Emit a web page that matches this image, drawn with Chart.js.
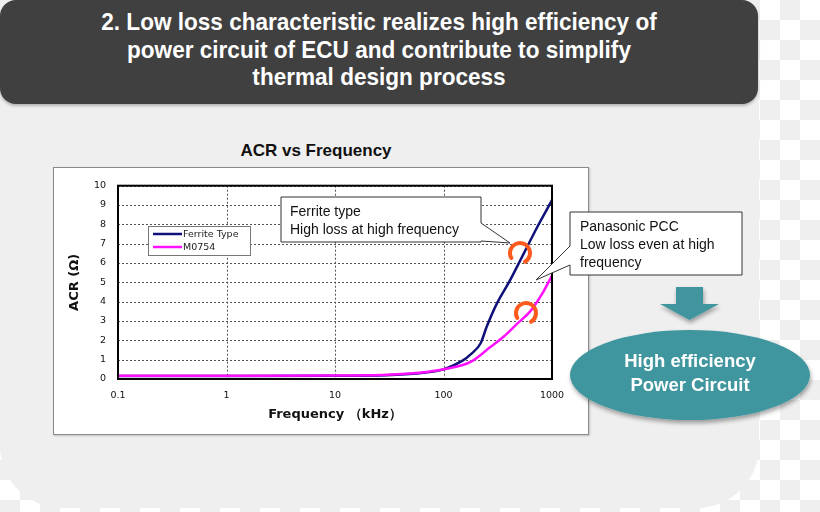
<!DOCTYPE html>
<html>
<head>
<meta charset="utf-8">
<script src="https://cdn.jsdelivr.net/npm/chart.js@4"></script>
<style>
  html, body { margin: 0; padding: 0; }
  body {
    width: 820px; height: 512px; position: relative; overflow: hidden;
    background-color: #ffffff;
    background-image:
      linear-gradient(45deg, #efefef 25%, transparent 25%, transparent 75%, #efefef 75%),
      linear-gradient(45deg, #efefef 25%, transparent 25%, transparent 75%, #efefef 75%);
    background-size: 40px 40px;
    background-position: 0 0, 20px 20px;
    font-family: "Liberation Sans", Arial, sans-serif;
  }
  #panel {
    position: absolute; left: 0; top: 0; width: 759px; height: 508px;
    background: #efefef; border-radius: 0 0 62px 62px;
  }
  #header {
    position: absolute; left: 0; top: 0; width: 758px; height: 104px;
    background: #404040; border-radius: 16px;
    box-shadow: 0 2px 3px rgba(0,0,0,0.25);
  }
  #header div {
    position: absolute; left: 0; top: 8px; width: 758px;
    color: #fff; text-align: center;
    font-family: "Liberation Sans Narrow", "Arial Narrow", "Liberation Sans", sans-serif;
    font-weight: bold; font-size: 24px; line-height: 27.5px;
    transform: scaleX(0.94); transform-origin: 379px 0;
  }
  #chartTitle {
    position: absolute; left: 53px; width: 526px; top: 141px;
    text-align: center; font-weight: bold; font-size: 17px; color: #111;
  }
  #box {
    position: absolute; left: 53px; top: 167px; width: 536px; height: 268px;
    background: #fff; box-sizing: border-box; border: 1px solid #8a8a8a;
    box-shadow: 1px 1px 2px rgba(0,0,0,0.2);
  }
  #box canvas { position: absolute; left: 0; top: 0; }
  #overlay { position: absolute; left: 0; top: 0; }
</style>
</head>
<body>
<div id="panel"></div>
<div id="header"><div>2. Low loss characteristic realizes high efficiency of<br>power circuit of ECU and contribute to simplify<br>thermal design process</div></div>
<div id="chartTitle">ACR vs Frequency</div>
<div id="box"><canvas id="acr" width="534" height="266"></canvas></div>

<svg id="overlay" width="820" height="512" xmlns="http://www.w3.org/2000/svg">
  <defs>
    <filter id="sh" x="-20%" y="-20%" width="140%" height="150%">
      <feDropShadow dx="1" dy="3" stdDeviation="2" flood-color="#000" flood-opacity="0.35"/>
    </filter>
  </defs>
  <!-- callout: ferrite -->
  <polygon points="281,197 481,197 481,223 510,243 481,241 481,242 281,242" fill="#fff" stroke="#333" stroke-width="1"/>
  <text x="290" y="216" font-size="14" fill="#111">Ferrite type</text>
  <text x="290" y="234" font-size="14" fill="#111">High loss at high frequency</text>
  <!-- callout: panasonic -->
  <polygon points="570,212 742,212 742,275 570,275 570,265 536,280 570,246" fill="#fff" stroke="#333" stroke-width="1"/>
  <text x="580" y="231" font-size="14" fill="#111">Panasonic PCC</text>
  <text x="580" y="249" font-size="14" fill="#111">Low loss even at high</text>
  <text x="580" y="267" font-size="14" fill="#111">frequency</text>
  <!-- orange marks -->
  <path d="M 511.3 258 A 10 10 0 1 1 525 261.7" fill="none" stroke="#ff5a1e" stroke-width="4" stroke-linecap="round"/>
  <path d="M 517.3 318 A 10 10 0 1 1 531 321.7" fill="none" stroke="#ff5a1e" stroke-width="4" stroke-linecap="round"/>
  <!-- arrow and ellipse -->
  <polygon points="676,287 703,287 703,304 719,304 689.5,320 660,304 676,304" fill="#3f959e" filter="url(#sh)"/>
  <ellipse cx="690" cy="375" rx="120" ry="45" fill="#40969e" filter="url(#sh)"/>
  <text x="690" y="367" text-anchor="middle" font-size="18.5" font-weight="bold" fill="#fff">High efficiency</text>
  <text x="690" y="391" text-anchor="middle" font-size="18.5" font-weight="bold" fill="#fff">Power Circuit</text>
</svg>

<script>
// values
const freqTicks = [0.1, 1, 10, 100, 1000];
const acrTicks = [0, 1, 2, 3, 4, 5, 6, 7, 8, 9, 10];

const ferriteFreq = [0.1, 1, 10, 30, 60, 100, 150, 180, 220, 250, 310, 410, 550, 730, 1000];
const ferriteAcr  = [0.16, 0.16, 0.17, 0.2, 0.3, 0.5, 0.95, 1.3, 1.85, 2.7, 3.9, 5.1, 6.5, 7.85, 9.25];

const m0754Freq = [0.1, 1, 10, 30, 60, 100, 180, 270, 360, 475, 630, 810, 1000];
const m0754Acr  = [0.17, 0.17, 0.18, 0.22, 0.32, 0.5, 0.9, 1.65, 2.2, 2.85, 3.5, 4.4, 5.35];

const seriesNames = ['Ferrite Type', 'M0754'];
const seriesColors = ['#10107a', '#ff10ff'];

const toPoints = (xs, ys) => xs.map((x, i) => ({ x: x, y: ys[i] }));

// dotted grid, drawn under the lines
const dottedGrid = {
    id: 'dottedGrid',
    beforeDatasetsDraw(chart) {
        const ctx = chart.ctx;
        const area = chart.chartArea;
        const xs = chart.scales.x, ys = chart.scales.y;
        ctx.save();
        ctx.strokeStyle = '#555';
        ctx.lineWidth = 1;
        ctx.setLineDash([2, 2]);
        ctx.beginPath();
        freqTicks.forEach(v => {
            const px = Math.round(xs.getPixelForValue(v)) + 0.5;
            ctx.moveTo(px, area.top);
            ctx.lineTo(px, area.bottom);
        });
        acrTicks.forEach(v => {
            const py = Math.round(ys.getPixelForValue(v)) + 0.5;
            ctx.moveTo(area.left, py);
            ctx.lineTo(area.right, py);
        });
        ctx.stroke();
        ctx.restore();
    }
};

// plot frame and the legend box inside the plot, like the original
const insideLegend = {
    id: 'insideLegend',
    afterDatasetsDraw(chart) {
        const ctx = chart.ctx;
        const area = chart.chartArea;
        ctx.save();
        ctx.strokeStyle = '#000';
        ctx.lineWidth = 2;
        ctx.strokeRect(area.left, area.top, area.right - area.left, area.bottom - area.top);

        const bx = 94, by = 58, bw = 102, bh = 29;
        ctx.fillStyle = '#fff';
        ctx.fillRect(bx, by, bw, bh);
        ctx.strokeStyle = '#777';
        ctx.lineWidth = 1;
        ctx.strokeRect(bx + 0.5, by + 0.5, bw, bh);
        ctx.font = '9.5px "DejaVu Sans", sans-serif';
        ctx.textBaseline = 'middle';
        chart.data.datasets.forEach((ds, i) => {
            const y = by + 8 + i * 13;
            ctx.strokeStyle = ds.borderColor;
            ctx.lineWidth = 2.5;
            ctx.beginPath();
            ctx.moveTo(bx + 5, y);
            ctx.lineTo(bx + 34, y);
            ctx.stroke();
            ctx.fillStyle = '#222';
            ctx.fillText(ds.label, bx + 35, y + 1);
        });
        ctx.restore();
    }
};

new Chart(document.getElementById('acr'), {
    type: 'line',
    data: {
        datasets: [{
            label: seriesNames[0],
            data: toPoints(ferriteFreq, ferriteAcr),
            borderColor: seriesColors[0],
            borderWidth: 2.5,
            pointRadius: 0,
            cubicInterpolationMode: 'monotone',
            order: 1
        }, {
            label: seriesNames[1],
            data: toPoints(m0754Freq, m0754Acr),
            borderColor: seriesColors[1],
            borderWidth: 2.5,
            pointRadius: 0,
            cubicInterpolationMode: 'monotone',
            order: 0
        }]
    },
    options: {
        responsive: false,
        animation: false,
        events: [],
        layout: { padding: { left: 0, top: 17, right: 36, bottom: 0 } },
        plugins: { legend: { display: false }, tooltip: { enabled: false } },
        scales: {
            x: {
                type: 'logarithmic',
                min: freqTicks[0],
                max: freqTicks[freqTicks.length - 1],
                afterBuildTicks: (scale) => { scale.ticks = freqTicks.map(v => ({ value: v })); },
                afterFit: (scale) => { scale.height = 55; },
                ticks: {
                    autoSkip: false, maxRotation: 0, padding: 11, color: '#111',
                    font: { size: 9.5, family: '"DejaVu Sans", sans-serif' },
                    callback: (v) => String(v)
                },
                grid: { display: true, drawOnChartArea: false, drawTicks: false, color: 'rgba(0,0,0,0)' },
                border: { display: false },
                title: {
                    display: true, text: 'Frequency （kHz）', color: '#111',
                    font: { size: 13, weight: 'bold', family: '"DejaVu Sans", sans-serif' },
                    padding: { top: 0, bottom: 12 }
                }
            },
            y: {
                min: acrTicks[0],
                max: acrTicks[acrTicks.length - 1],
                afterBuildTicks: (scale) => { scale.ticks = acrTicks.map(v => ({ value: v })); },
                afterFit: (scale) => { scale.width = 64; },
                ticks: {
                    padding: 12, color: '#111',
                    font: { size: 9.5, family: '"DejaVu Sans", sans-serif' }
                },
                grid: { display: true, drawOnChartArea: false, drawTicks: false, color: 'rgba(0,0,0,0)' },
                border: { display: false },
                title: {
                    display: true, text: 'ACR (Ω)', color: '#111',
                    font: { size: 13, weight: 'bold', family: '"DejaVu Sans", sans-serif' },
                    padding: { top: 13, bottom: 0 }
                }
            }
        }
    },
    plugins: [dottedGrid, insideLegend]
});
</script>
</body>
</html>
